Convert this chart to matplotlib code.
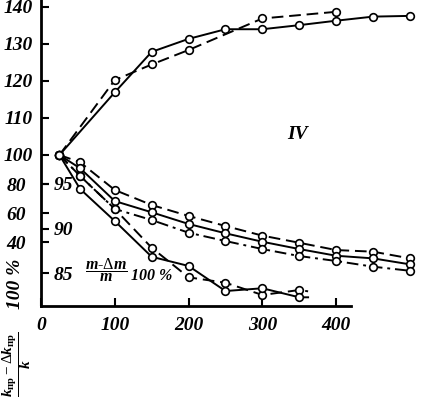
import matplotlib
matplotlib.use('Agg')
import matplotlib.pyplot as plt

plt.rcParams['font.family'] = ['Liberation Serif', 'DejaVu Serif']
plt.rcParams['mathtext.fontset'] = 'custom'
plt.rcParams['mathtext.rm'] = 'Liberation Serif'
plt.rcParams['mathtext.it'] = 'Liberation Serif:italic'
plt.rcParams['mathtext.bf'] = 'Liberation Serif:bold'
plt.rcParams['mathtext.bfit'] = 'Liberation Serif:italic:bold'

# upper group, scale 100..140
x_up_solid = [25, 100, 150, 200, 250, 300, 350, 400, 450, 500]
up_solid = [100, 116.9, 127.8, 131.3, 133.9, 133.9, 135.0, 136.2, 137.3, 137.5]
x_up_dash = [25, 100, 150, 200, 300, 400]
up_dash = [100, 120.2, 124.4, 128.3, 136.8, 138.6]

# lower group, scale (k_np - dk_np)/k 100 %
x_long = [25, 53, 100, 150, 200, 250, 300, 350, 400, 450, 500]
long_dash = [100, 95.0, 76.0, 65.7, 58.2, 51.3, 44.7, 39.8, 34.8, 33.7, 29.1]
long_solid = [100, 90.9, 68.4, 60.7, 52.7, 46.3, 40.5, 35.5, 30.9, 29.1, 25.0]
long_dashdot = [100, 85.6, 63.0, 55.4, 46.7, 41.0, 35.5, 30.7, 27.3, 23.4, 20.6]

x_short = [25, 53, 100, 150, 200, 250, 300, 350, 362]
short_dash = [100, 85.6, 63.0, 36.4, 16.1, 12.4, 4.0, 7.4, 6.5]
short_solid = [100, 76.7, 54.7, 30.2, 23.9, 6.7, 8.6, 2.4, 2.4]

x_ticks = [0, 100, 200, 300, 400]
up_ticks = [100, 110, 120, 130, 140]
k_ticks = [40, 60, 80]
m_ticks = [85, 90, 95]

fig = plt.figure(figsize=(4.21, 3.97), dpi=100)
ax = fig.add_axes([41 / 421, 1 - 305.5 / 397, 380 / 421, 305.5 / 397])
ax.set_xlim(0, 515)
ax.set_ylim(-3.22, 206.3)
ax_up = ax.twinx()
ax_up.set_ylim(59.43, 141.78)
ax_m = ax.twinx()
ax_m.set_ylim(81.42, 115.56)

fnt = dict(family='Liberation Serif', weight='bold', style='italic', size=14)
mk = dict(marker='o', markersize=5.5, markerfacecolor='white',
          markeredgecolor='black', markeredgewidth=1.2, color='black', lw=1.4)
dash = (0, (6, 3))
dashdot = (0, (6, 2.5, 1.5, 2.5))

ax_up.plot(x_up_solid, up_solid, linestyle='-', **mk)
ax_up.plot(x_up_dash, up_dash, linestyle=dash, **mk)

ax.plot(x_long, long_dash, linestyle=dash, **mk)
ax.plot(x_long, long_solid, linestyle='-', **mk)
ax.plot(x_long, long_dashdot, linestyle=dashdot, **mk)
ax.plot(x_short, short_dash, linestyle=dash, markevery=list(range(len(x_short) - 1)), **mk)
ax.plot(x_short, short_solid, linestyle='-', markevery=list(range(len(x_short) - 1)), **mk)

for a in (ax, ax_up, ax_m):
    a.spines['top'].set_visible(False)
    a.spines['right'].set_visible(False)
for a in (ax_up, ax_m):
    a.spines['left'].set_visible(False)
    a.spines['bottom'].set_visible(False)
    a.yaxis.tick_left()

ax.spines['left'].set_linewidth(2)
ax.spines['bottom'].set_linewidth(2)
ax.spines['bottom'].set_bounds(0, 420)

ax.set_xticks(x_ticks)
ax.set_xticklabels([str(v) for v in x_ticks], fontdict=fnt)
ax.tick_params(axis='x', direction='in', length=6, width=1.5, pad=8)

ax.set_yticks(k_ticks)
ax.set_yticklabels([str(v) for v in k_ticks], fontdict=fnt)
ax.tick_params(axis='y', direction='in', length=6, width=1.5, pad=11)

ax_up.set_yticks(up_ticks)
ax_up.set_yticklabels([str(v) for v in up_ticks], fontdict=fnt)
ax_up.tick_params(axis='y', direction='in', length=6, width=1.5, pad=6)

ax_m.set_yticks(m_ticks)
ax_m.set_yticklabels([str(v) for v in m_ticks], fontdict=fnt)
ax_m.tick_params(axis='y', direction='in', length=6, width=1.5, pad=-9)
for lbl in ax_m.get_yticklabels():
    lbl.set_ha('left')

ax_up.text(347, 105.4, 'IV', ha='center', va='center', **fnt)
ax.text(89, 21.1, r'$\dfrac{\mathbfit{m}\text{-}\Delta \mathbfit{m}}{\mathbfit{m}}$',
        ha='center', va='center', fontsize=11.5)
ax.text(150, 17.0, '100 %', ha='center', va='center',
        family='Liberation Serif', style='italic', weight='bold', size=11.5)

fig.text(15 / 421, 1 - 284 / 397, '100 %', rotation=90, ha='center', va='center', **fnt)
fig.text(17 / 421, 1 - 364 / 397,
         r'$\dfrac{\mathbfit{k}_{\mathbf{пр}} - \Delta \mathbfit{k}_{\mathbf{пр}}}{\mathbfit{k}}$',
         rotation=90, ha='center', va='center', fontsize=11)

fig.savefig('out.png', dpi=100)
